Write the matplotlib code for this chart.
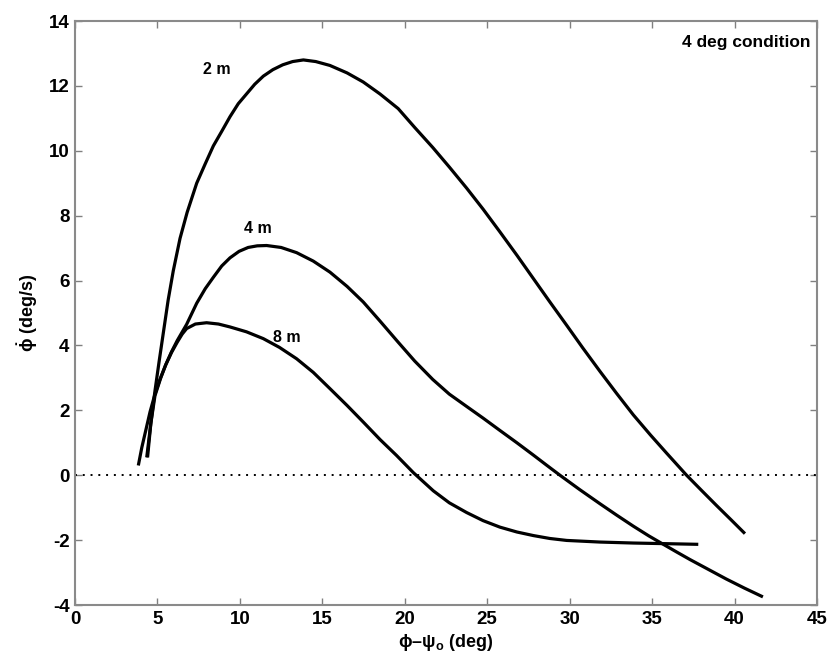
import matplotlib
matplotlib.use("Agg")
import matplotlib.pyplot as plt

plt.rcParams['font.family'] = ['Liberation Sans', 'DejaVu Sans']
plt.rcParams['mathtext.fontset'] = 'custom'
plt.rcParams['mathtext.rm'] = 'Liberation Sans'
plt.rcParams['mathtext.it'] = 'Liberation Sans'
plt.rcParams['mathtext.bf'] = 'Liberation Sans:bold'
plt.rcParams['mathtext.default'] = 'regular'
plt.rcParams['axes.unicode_minus'] = False

# 2 m curve
x2 = [4.35, 4.6, 4.85, 5.1, 5.36, 5.65, 5.96, 6.37, 6.8, 7.38, 7.9, 8.39, 8.9, 9.4,
      9.9, 10.4, 10.9, 11.42, 12.0, 12.6, 13.2, 13.85, 14.6, 15.46, 16.5, 17.48,
      18.5, 19.6, 20.6, 21.7, 22.7, 23.75, 24.75, 25.77, 26.8, 27.8, 28.8, 29.82,
      30.8, 31.84, 32.85, 33.86, 34.9, 35.88, 37.09, 38.0, 38.9, 39.8, 40.63]
y2 = [0.55, 1.6, 2.6, 3.5, 4.4, 5.4, 6.3, 7.3, 8.1, 9.0, 9.6, 10.15, 10.6, 11.05,
      11.45, 11.75, 12.05, 12.3, 12.5, 12.65, 12.75, 12.8, 12.75, 12.63, 12.4, 12.12,
      11.75, 11.3, 10.72, 10.1, 9.5, 8.85, 8.2, 7.5, 6.78, 6.06, 5.34, 4.62,
      3.92, 3.2, 2.52, 1.86, 1.24, 0.68, 0.0, -0.47, -0.93, -1.38, -1.8]

# 4 m curve
x4 = [4.4, 4.6, 4.85, 5.2, 5.5, 5.85, 6.2, 6.77, 7.38, 7.9, 8.39, 8.9, 9.4, 9.95,
      10.5, 11.05, 11.62, 12.5, 13.44, 14.45, 15.46, 16.5, 17.48, 18.5, 19.6, 20.6,
      21.7, 22.7, 23.75, 24.75, 25.77, 26.8, 27.8, 28.6, 29.41, 30.6, 31.84, 32.85,
      33.86, 34.8, 35.68, 36.5, 37.3, 38.4, 39.5, 40.6, 41.72]
y4 = [0.55, 1.6, 2.45, 3.0, 3.4, 3.8, 4.15, 4.65, 5.3, 5.75, 6.1, 6.45, 6.7, 6.9,
      7.02, 7.07, 7.08, 7.02, 6.86, 6.6, 6.26, 5.82, 5.34, 4.75, 4.1, 3.52,
      2.95, 2.5, 2.12, 1.76, 1.38, 1.0, 0.62, 0.31, 0.0, -0.44, -0.88, -1.23,
      -1.57, -1.87, -2.13, -2.37, -2.6, -2.9, -3.2, -3.48, -3.75]

# 8 m curve
x8 = [3.84, 4.05, 4.3, 4.55, 4.85, 5.15, 5.5, 5.85, 6.2, 6.5, 6.77, 7.3, 7.98, 8.7,
      9.4, 10.4, 11.42, 12.4, 13.44, 14.45, 15.46, 16.5, 17.48, 18.5, 19.5, 20.52,
      21.73, 22.7, 23.75, 24.75, 25.77, 26.8, 27.8, 28.8, 29.82, 31.84, 33.86, 35.88,
      37.8]
y8 = [0.3, 0.85, 1.4, 1.95, 2.5, 2.95, 3.4, 3.78, 4.1, 4.35, 4.52, 4.66, 4.7, 4.66,
      4.57, 4.42, 4.21, 3.94, 3.59, 3.17, 2.67, 2.15, 1.64, 1.1, 0.61, 0.08,
      -0.48, -0.85, -1.15, -1.4, -1.6, -1.75, -1.86, -1.95, -2.01, -2.06, -2.09, -2.11,
      -2.13]

curve_labels = ['2 m', '4 m', '8 m']
label_pos = [(8.6, 12.5), (11.1, 7.6), (12.85, 4.25)]

xticks = [0, 5, 10, 15, 20, 25, 30, 35, 40, 45]
yticks = [-4, -2, 0, 2, 4, 6, 8, 10, 12, 14]

fig = plt.figure(figsize=(8.32, 6.70), dpi=100)
ax = fig.add_axes([75/832, 1-605/670, (817-75)/832, (605-21)/670])

ax.axhline(0, color='black', lw=1.4, linestyle=(0, (1, 3)))
for xs, ys in [(x2, y2), (x4, y4), (x8, y8)]:
    ax.plot(xs, ys, color='black', lw=2.3, solid_capstyle='butt',
            solid_joinstyle='round')

for lab, (lx, ly) in zip(curve_labels, label_pos):
    ax.text(lx, ly, lab, fontsize=11.5, fontweight='bold', ha='center', va='center')

ax.text(44.6, 13.35, '4 deg condition', fontsize=12.5, fontweight='bold',
        ha='right', va='center')

ax.set_xlim(0, 45)
ax.set_ylim(-4, 14)
ax.set_xticks(xticks)
ax.set_yticks(yticks)
ax.tick_params(direction='in', length=5, width=1, color='#808080',
               top=True, right=True, labelsize=13.5, pad=4)
for lab in ax.get_xticklabels() + ax.get_yticklabels():
    lab.set_fontweight('bold')
for sp in ax.spines.values():
    sp.set_color('#8a8a8a')
    sp.set_linewidth(1.5)

ax.set_xlabel('ϕ–ψ$_{o}$ (deg)', fontsize=13, fontweight='bold', labelpad=3)
ax.set_ylabel(r'$\dot{\phi}$ (deg/s)', fontsize=13, fontweight='bold', labelpad=6)

fig.savefig('out.png', dpi=100)
